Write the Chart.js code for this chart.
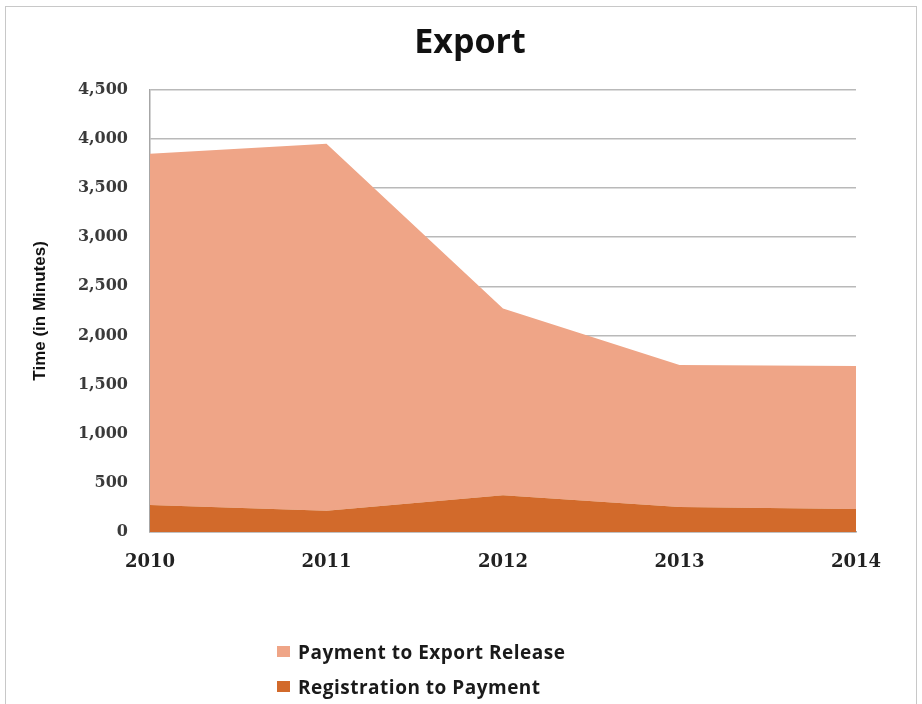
<!DOCTYPE html>
<html>
<head>
<meta charset="utf-8">
<script src="https://cdn.jsdelivr.net/npm/chart.js@4.4.1/dist/chart.umd.min.js"></script>
<style>
  html, body { margin: 0; padding: 0; background: #fff; }
  #wrap { position: relative; width: 922px; height: 704px; overflow: hidden; }
  #frame { position: absolute; left: 5px; top: 6px; width: 912px; height: 700px; border: 1.5px solid #c8c8c8; box-sizing: border-box; }
  canvas { position: absolute; left: 0; top: 0; }
  #legend { position: absolute; left: 277px; top: 634px; font-family: "Open Sans", "DejaVu Sans", sans-serif; font-weight: 700; font-size: 19px; letter-spacing: 0.5px; color: #1a1a1a; }
  #legend div { height: 35px; line-height: 24px; display: flex; align-items: center; }
  #legend span.box { display: inline-block; width: 13px; height: 11px; margin-right: 8px; }
</style>
</head>
<body>
<div id="wrap">
  <div id="frame"></div>
  <canvas id="c" width="922" height="704"></canvas>
  <div id="legend"></div>
</div>
<script>
const years = ['2010', '2011', '2012', '2013', '2014'];
const registrationToPayment = [275, 215, 375, 255, 235];
const paymentToExportRelease = [3575, 3735, 1900, 1445, 1455];
const yTicks = [0, 500, 1000, 1500, 2000, 2500, 3000, 3500, 4000, 4500];

const darkOrange = '#d26a2b';
const lightOrange = '#efa587';

// the title in the reference is centred on the page, not on the padded box
const centreTitle = {
  id: 'centreTitle',
  afterLayout(chart) {
    if (!chart.titleBlock) return;
    chart.titleBlock.left = 0;
    chart.titleBlock.right = 940;
  }
};

const chart = new Chart(document.getElementById('c').getContext('2d'), {
  type: 'line',
  data: {
    labels: years,
    datasets: [
      {
        label: 'Registration to Payment',
        data: registrationToPayment,
        backgroundColor: darkOrange,
        borderColor: darkOrange,
        borderWidth: 0,
        pointRadius: 0,
        fill: 'origin',
        tension: 0
      },
      {
        label: 'Payment to Export Release',
        data: paymentToExportRelease,
        backgroundColor: lightOrange,
        borderColor: lightOrange,
        borderWidth: 0,
        pointRadius: 0,
        fill: '-1',
        tension: 0
      }
    ]
  },
  options: {
    responsive: false,
    animation: false,
    layout: { padding: { left: 30, right: 66, top: 0, bottom: 122 } },
    plugins: {
      legend: { display: false },
      tooltip: { enabled: false },
      title: {
        display: true,
        text: 'Export',
        color: '#111',
        font: { family: '"Open Sans", "DejaVu Sans", sans-serif', size: 34, weight: 'bold' },
        padding: { top: 23, bottom: 26 }
      }
    },
    scales: {
      x: {
        offset: false,
        grid: { display: false, drawTicks: false },
        border: { color: '#a6a6a6', width: 1.5 },
        ticks: {
          color: '#222',
          padding: 20,
          maxRotation: 0,
          font: { family: '"DejaVu Serif", serif', size: 18, weight: 'bold' }
        },
        afterFit: (s) => { s.height = 50; }
      },
      y: {
        stacked: true,
        min: 0,
        max: 4500,
        afterBuildTicks: (s) => { s.ticks = yTicks.map((v) => ({ value: v })); },
        grid: { color: '#b9b9b9', lineWidth: 1.5, drawTicks: false },
        border: { display: true, color: '#a6a6a6', width: 1.5 },
        title: {
          display: true,
          text: 'Time (in Minutes)',
          color: '#111',
          font: { family: '"Liberation Sans Narrow", "Liberation Sans", sans-serif', size: 17, weight: 'bold' },
          padding: { top: 0, bottom: 0 }
        },
        ticks: {
          color: '#3a3a3a',
          padding: 22,
          callback: (v) => v.toLocaleString('en-US'),
          font: { family: '"DejaVu Serif", serif', size: 16, weight: 'bold' }
        },
        afterFit: (s) => { s.width = 120; }
      }
    }
  },
  plugins: [centreTitle]
});

// legend: upper series first, as in the reference
const legend = document.getElementById('legend');
chart.data.datasets.slice().reverse().forEach((ds) => {
  const row = document.createElement('div');
  const box = document.createElement('span');
  box.className = 'box';
  box.style.background = ds.backgroundColor;
  row.appendChild(box);
  row.appendChild(document.createTextNode(ds.label));
  legend.appendChild(row);
});
</script>
</body>
</html>
